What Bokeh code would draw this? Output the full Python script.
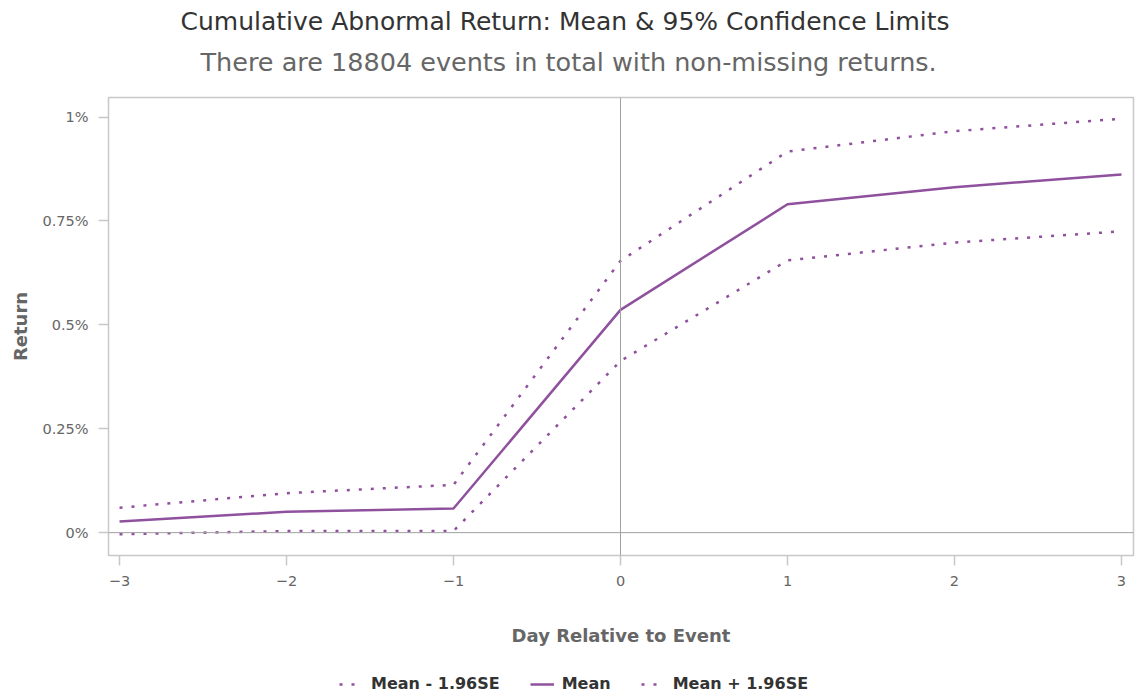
from bokeh.plotting import figure
from bokeh.layouts import column
from bokeh.models import Range1d, Span, Legend, LegendItem, Title, FixedTicker
from bokeh.embed import file_html
from bokeh.resources import INLINE

days = [-3, -2, -1, 0, 1, 2, 3]
mean = [0.027, 0.050, 0.058, 0.536, 0.790, 0.831, 0.862]
upper = [0.060, 0.095, 0.115, 0.654, 0.917, 0.966, 0.996]
lower = [-0.004, 0.004, 0.004, 0.413, 0.655, 0.698, 0.725]

x_ticks = [-3, -2, -1, 0, 1, 2, 3]
x_tick_labels = ["\u22123", "\u22122", "\u22121", "0", "1", "2", "3"]
y_ticks = [0, 0.25, 0.5, 0.75, 1.0]
y_tick_labels = ["0%", "0.25%", "0.5%", "0.75%", "1%"]

title_text = "Cumulative Abnormal Return: Mean & 95% Confidence Limits"
subtitle_text = "There are 18804 events in total with non-missing returns."
x_label = "Day Relative to Event"
y_label = "Return"
series_names = ["Mean - 1.96SE", "Mean", "Mean + 1.96SE"]

PURPLE = "#8f509d"
FONT = "DejaVu Sans"
DASH = "3 9"

p = figure(frame_width=1025, frame_height=458, output_backend="svg", toolbar_location=None,
           x_range=Range1d(-3.066, 3.072), y_range=Range1d(-0.055, 1.047),
           min_border_left=108, min_border_right=3, min_border_top=0, min_border_bottom=96)
p.background_fill_color = "white"
p.border_fill_color = "white"
p.outline_line_color = "#c8c8c8"
p.outline_line_width = 1.5
p.xgrid.visible = False
p.ygrid.visible = False

# Titles: spacer (closest to frame), subtitle, title
p.add_layout(Title(text=" ", text_font_size="1px", standoff=13), "above")
p.add_layout(Title(text=subtitle_text, align="left", offset=92, text_font=FONT,
                   text_font_size="25.5px", text_color="#666666", text_font_style="normal",
                   standoff=9), "above")
p.add_layout(Title(text=title_text, align="left", offset=72, text_font=FONT,
                   text_font_size="25px", text_color="#333333", text_font_style="normal",
                   standoff=9), "above")

for ax in (p.xaxis[0], p.yaxis[0]):
    ax.axis_line_color = None
    ax.major_tick_line_color = "#c8c8c8"
    ax.major_tick_line_width = 1.5
    ax.major_tick_in = 0
    ax.major_tick_out = 10
    ax.minor_tick_line_color = None
    ax.major_label_text_font = FONT
    ax.major_label_text_font_size = "14.5px"
    ax.major_label_text_color = "#666666"
    ax.axis_label_text_font = FONT
    ax.axis_label_text_font_style = "bold"
    ax.axis_label_text_color = "#666666"
    ax.axis_label_text_font_size = "18px"

p.xaxis.ticker = FixedTicker(ticks=x_ticks)
p.xaxis.major_label_overrides = dict(zip(x_ticks, x_tick_labels))
p.xaxis.axis_label = x_label
p.xaxis.major_label_standoff = 10
p.xaxis.axis_label_standoff = 36

p.yaxis.ticker = FixedTicker(ticks=y_ticks)
p.yaxis.major_label_overrides = dict(zip(y_ticks, y_tick_labels))
p.yaxis.axis_label = y_label
p.yaxis.major_label_standoff = 10
p.yaxis.axis_label_standoff = 8

p.add_layout(Span(location=0, dimension="width", line_color="#a0a0a0", line_width=1))
p.add_layout(Span(location=0, dimension="height", line_color="#a0a0a0", line_width=1))

p.line(days, lower, line_color=PURPLE, line_width=2.5, line_dash=DASH)
p.line(days, mean, line_color=PURPLE, line_width=2.5)
p.line(days, upper, line_color=PURPLE, line_width=2.5, line_dash=DASH)

# Legend strip below the chart (its series sit outside its visible range; only the key shows)
lg = figure(width=1136, height=45, output_backend="svg", toolbar_location=None,
            x_axis_location=None, y_axis_location=None,
            x_range=Range1d(-3, 3), y_range=Range1d(50, 51),
            min_border=0, min_border_left=0, min_border_right=0,
            min_border_top=0, min_border_bottom=0)
lg.outline_line_color = None
lg.xgrid.visible = False
lg.ygrid.visible = False
lg.background_fill_color = "white"
lg.border_fill_color = "white"
k_lower = lg.line(days, lower, line_color=PURPLE, line_width=2.5, line_dash=DASH)
k_mean = lg.line(days, mean, line_color=PURPLE, line_width=2.5)
k_upper = lg.line(days, upper, line_color=PURPLE, line_width=2.5, line_dash=DASH)

legend = Legend(items=[LegendItem(label=series_names[0], renderers=[k_lower]),
                       LegendItem(label=series_names[1], renderers=[k_mean]),
                       LegendItem(label=series_names[2], renderers=[k_upper])],
                orientation="horizontal", location=(231, 3),
                label_text_font=FONT, label_text_font_style="bold", label_text_font_size="16px",
                label_text_color="#333333", glyph_width=24, glyph_height=16,
                label_standoff=8, spacing=30, border_line_color=None,
                background_fill_alpha=0, padding=0, margin=0)
lg.add_layout(legend, "center")

open("out.html", "w").write(file_html(column(p, lg), INLINE))
